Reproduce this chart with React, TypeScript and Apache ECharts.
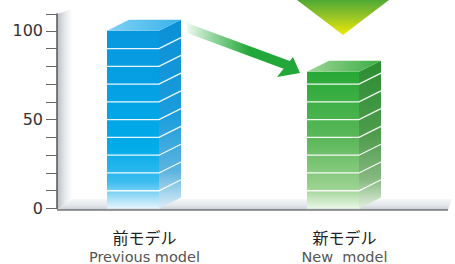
import React, { useEffect, useRef } from 'react';
import * as echarts from 'echarts';

const categoriesJa = ['前モデル', '新モデル'];
const categoriesEn = ['Previous model', 'New  model'];
const values = [100, 77];
const yTickLabels = [0, 50, 100];
const yMin = 0;
const yMax = 109.5;
const yInterval = 10;

const palettes = [
  {
    front: [
      [0, '#0897df'],
      [0.65, '#00abe8'],
      [0.85, '#3cbcef'],
      [1, '#e6f5fc'],
    ],
    side: [
      [0, '#0b8fd6'],
      [0.5, '#1a9cdc'],
      [0.8, '#5cb4e0'],
      [1, '#dcecf7'],
    ],
    top: [
      [0, '#7fd0f3'],
      [1, '#3ab3eb'],
    ],
  },
  {
    front: [
      [0, '#27a836'],
      [0.5, '#5cb85a'],
      [0.85, '#9bd290'],
      [1, '#eaf6e6'],
    ],
    side: [
      [0, '#2b8d32'],
      [0.5, '#4e9c4c'],
      [0.8, '#86b880'],
      [1, '#e2efe0'],
    ],
    top: [
      [0, '#9dd596'],
      [1, '#3aae44'],
    ],
  },
];

const grad = (stops: any[], x2 = 0, y2 = 1) =>
  new echarts.graphic.LinearGradient(
    0,
    0,
    x2,
    y2,
    stops.map((s) => ({ offset: s[0], color: s[1] }))
  );

export default function App() {
  const ref = useRef<HTMLDivElement>(null);
  useEffect(() => {
    document.body.style.margin = '0';
    if (!ref.current) return;
    const chart = echarts.init(ref.current, undefined, { renderer: 'svg' });
    const option: any = {
      animation: false,
      grid: { left: 44.5, width: 400, top: 14, bottom: 54, containLabel: false },
      xAxis: {
        type: 'category',
        data: categoriesJa,
        axisLine: { show: false },
        axisTick: { show: false },
        axisLabel: {
          margin: 18,
          formatter: (_v: string, i: number) => `{jp|${categoriesJa[i]}}\n{en|${categoriesEn[i]}}`,
          rich: {
            jp: {
              fontSize: 16,
              lineHeight: 20,
              color: '#222',
              fontFamily: '"Noto Sans CJK JP", sans-serif',
            },
            en: {
              fontSize: 14.5,
              lineHeight: 20,
              color: '#555',
              fontFamily: '"DejaVu Sans", sans-serif',
            },
          },
        },
      },
      yAxis: {
        type: 'value',
        min: yMin,
        max: yMax,
        interval: yInterval,
        offset: -12.5,
        splitLine: { show: false },
        axisLine: { show: true, lineStyle: { color: '#555', width: 1.5 } },
        axisTick: { show: true, length: 11, lineStyle: { color: '#666', width: 1 } },
        axisLabel: {
          margin: 14,
          fontSize: 16,
          color: '#333',
          fontFamily: '"DejaVu Sans", sans-serif',
          formatter: (v: number) => (yTickLabels.includes(v) ? String(v) : ''),
        },
      },
      graphic: [
        {
          type: 'polygon',
          z: 0,
          shape: { points: [[57, 14], [72, 9], [72, 199], [57, 210]] },
          style: { fill: grad([[0, '#b8bec4'], [0.5, '#e4e7ea'], [1, '#ffffff']], 1, 0) },
        },
        {
          type: 'polygon',
          z: 0,
          shape: { points: [[57, 210], [72, 199], [452, 199], [448, 210]] },
          style: { fill: grad([[0, '#f6f7f8'], [0.6, '#e2e6ea'], [1, '#c6ccd2']]) },
        },
        {
          type: 'line',
          z: 1,
          shape: { x1: 57, y1: 210, x2: 448, y2: 210 },
          style: { stroke: '#777', lineWidth: 1.5 },
        },
        {
          type: 'polygon',
          z: 10,
          shape: {
            points: [
              [187, 23],
              [289.8, 61],
              [293, 57],
              [300, 73],
              [277, 77],
              [283.6, 68.7],
              [187, 33],
            ],
          },
          style: {
            fill: grad(
              [
                [0, 'rgba(40,170,60,0.08)'],
                [0.2, 'rgba(40,170,60,0.45)'],
                [0.55, 'rgba(34,168,56,1)'],
                [1, 'rgba(34,168,56,1)'],
              ],
              1,
              0
            ),
          },
        },
        {
          type: 'polygon',
          z: 10,
          shape: { points: [[297, 0], [389, 0], [343, 35]] },
          style: {
            fill: grad([
              [0, '#4ea934'],
              [0.5, '#9cc626'],
              [1, '#f0ea00'],
            ]),
          },
        },
      ],
      series: [
        {
          type: 'custom',
          z: 5,
          data: values.map((v, i) => [i, v]),
          encode: { x: 0, y: 1 },
          renderItem: (_params: any, api: any) => {
            const i = api.value(0);
            const v = api.value(1);
            const base = api.coord([i, 0]);
            const top = api.coord([i, v]);
            const cx = base[0];
            const L = cx - 37.5;
            const R = cx + 14.5;
            const dx = 22;
            const dy = -11;
            const yb = base[1];
            const yt = top[1];
            const pal = palettes[i];
            const children: any[] = [
              {
                type: 'rect',
                shape: { x: L, y: yt, width: R - L, height: yb - yt },
                style: { fill: grad(pal.front) },
              },
              {
                type: 'polygon',
                shape: { points: [[R, yt], [R + dx, yt + dy], [R + dx, yb + dy], [R, yb]] },
                style: { fill: grad(pal.side) },
              },
              {
                type: 'polygon',
                shape: { points: [[L, yt], [R, yt], [R + dx, yt + dy], [L + dx, yt + dy]] },
                style: { fill: grad(pal.top, 1, 0) },
              },
            ];
            for (let s = yInterval; s < v; s += yInterval) {
              const y = api.coord([i, s])[1];
              children.push({
                type: 'polyline',
                shape: { points: [[L, y], [R, y], [R + dx, y + dy]] },
                style: { stroke: 'rgba(255,255,255,0.92)', lineWidth: 1.3, fill: 'none' },
              });
            }
            return { type: 'group', children };
          },
        },
      ],
    };
    chart.setOption(option);
    return () => chart.dispose();
  }, []);
  return <div ref={ref} style={{ width: 455, height: 264 }} />;
}
